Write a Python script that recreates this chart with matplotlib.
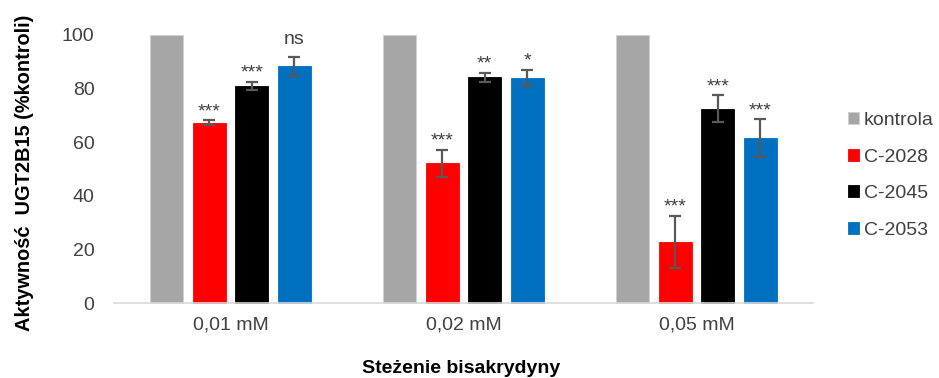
import matplotlib.pyplot as plt
import numpy as np

plt.rcParams["font.family"] = ["Liberation Sans", "DejaVu Sans"]

groups = ["0,01 mM", "0,02 mM", "0,05 mM"]
series = ["kontrola", "C-2028", "C-2045", "C-2053"]
colors = ["#a6a6a6", "#ff0000", "#000000", "#0070c0"]

kontrola = [100, 100, 100]
c2028 = [67.2, 52.0, 22.8]
c2045 = [81.0, 84.1, 72.4]
c2053 = [88.2, 84.0, 61.5]
values = [kontrola, c2028, c2045, c2053]

err_kontrola = [0, 0, 0]
err_c2028 = [0.9, 5.0, 9.8]
err_c2045 = [1.5, 1.6, 5.0]
err_c2053 = [3.6, 3.0, 7.0]
errors = [err_kontrola, err_c2028, err_c2045, err_c2053]

sig_c2028 = ["***", "***", "***"]
sig_c2045 = ["***", "**", "***"]
sig_c2053 = ["ns", "*", "***"]
signif = [None, sig_c2028, sig_c2045, sig_c2053]

fig = plt.figure(figsize=(9.39, 3.78), dpi=100)
ax = fig.add_axes([0.1214, 0.1984, 0.7444, 0.7098])

x = np.arange(len(groups))
step = 0.1824
width = 0.14

for i, (name, vals, errs, col) in enumerate(zip(series, values, errors, colors)):
    pos = x + (i - 1.5) * step
    edge = "#d0d0d0" if i == 0 else col
    ax.bar(pos, vals, width, color=col, label=name, edgecolor=edge,
           linewidth=0.6, clip_on=False, zorder=2)
    if i == 0:
        continue
    ax.errorbar(pos, vals, yerr=errs, fmt="none", ecolor="#595959",
                elinewidth=1.6, capsize=4, capthick=1.6, zorder=3)
    for p, v, e, s in zip(pos, vals, errs, signif[i]):
        dy = 9 if s == "ns" else 3
        ax.annotate(s, (p, v + e), xytext=(0, dy), textcoords="offset points",
                    ha="center", va="baseline", fontsize=14, color="#404040")

ax.set_xlim(-0.5, 2.5)
ax.set_ylim(0, 100)
ax.set_yticks([0, 20, 40, 60, 80, 100])
ax.set_xticks(x)
ax.set_xticklabels(groups)
ax.tick_params(axis="both", length=0, labelsize=14, colors="#404040", pad=10)
ax.tick_params(axis="y", pad=14)
for side in ["top", "right", "left"]:
    ax.spines[side].set_visible(False)
ax.spines["bottom"].set_color("#d9d9d9")
ax.spines["bottom"].set_linewidth(1.2)

ax.set_ylabel("Aktywność  UGT2B15 (%kontroli)", fontsize=14.4,
              fontweight="bold", labelpad=10)
ax.yaxis.set_label_coords(-0.115, 0.485)
ax.set_xlabel("Steżenie bisakrydyny", fontsize=14, fontweight="bold")
ax.xaxis.set_label_coords(0.496, -0.213)

handles, labels = ax.get_legend_handles_labels()
leg = fig.legend(handles, labels, loc="center left",
                 bbox_to_anchor=(0.895, 0.536), frameon=False, fontsize=14,
                 handlelength=0.55, handleheight=0.55, handletextpad=0.25,
                 labelspacing=1.0, borderaxespad=0)
for t in leg.get_texts():
    t.set_color("#404040")

fig.savefig("out.png", dpi=100)
